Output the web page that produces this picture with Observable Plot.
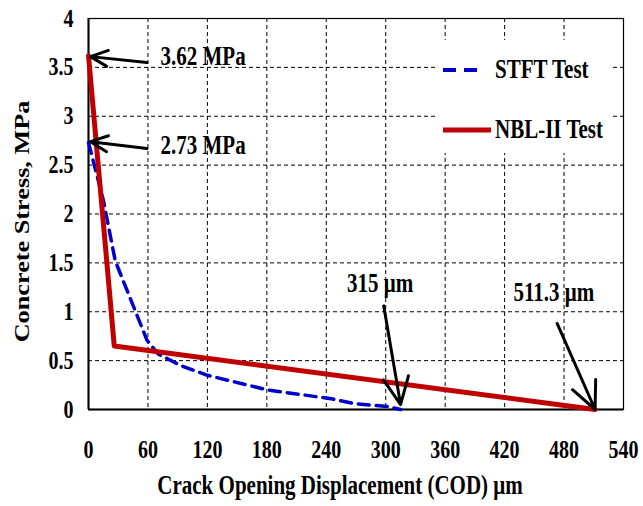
<!DOCTYPE html>
<html><head><meta charset="utf-8">
<script src="https://cdn.jsdelivr.net/npm/d3@7"></script>
<script src="https://cdn.jsdelivr.net/npm/@observablehq/plot@0.6"></script>
<style>
body{margin:0;background:#fff;}
#wrap{position:relative;width:643px;height:506px;}
.legend{position:absolute;left:437px;top:40px;width:173px;height:113px;background:#fff;font:bold 21px "Liberation Serif";color:#000;}
.legend .row{position:absolute;left:0;width:173px;height:30px;}
.legend svg{position:absolute;left:0;top:0;}
.legend span{position:absolute;left:58px;top:2px;white-space:nowrap;display:inline-block;transform:scaleY(1.25);transform-origin:left center;}
</style></head><body><div id="wrap"></div>
<script>
const xTicks = [0, 60, 120, 180, 240, 300, 360, 420, 480, 540];
const yTicks = [0, 0.5, 1, 1.5, 2, 2.5, 3, 3.5, 4];
const seriesNames = ["STFT Test", "NBL-II Test"];
const stftCod = [0, 15, 27, 59, 70, 93, 120, 181, 245, 268, 302, 315];
const stftStress = [2.73, 2.14, 1.52, 0.71, 0.57, 0.45, 0.35, 0.2, 0.11, 0.06, 0.03, 0];
const nblCod = [0, 26, 511.3];
const nblStress = [3.62, 0.65, 0];
const annLabels = ["3.62 MPa", "2.73 MPa", "315 μm", "511.3 μm"];
const annTipX = [2, 2, 315, 511.3];
const annTipY = [3.61, 2.74, 0.05, 0];
const annTailX = [59, 59, 298, 473];
const annTailY = [3.55, 2.67, 1.06, 0.88];
const annTextX = [72.7, 72.7, 261, 429];
const annTextY = [3.61, 2.70, 1.29, 1.20];
const xLabel = "Crack Opening Displacement (COD) μm";
const yLabel = "Concrete Stress, MPa";

const stft = stftCod.map((c, i) => ({cod: c, stress: stftStress[i]}));
const nbl = nblCod.map((c, i) => ({cod: c, stress: nblStress[i]}));
const ann = annLabels.map((l, i) => ({label: l, x: annTipX[i], y: annTipY[i], tx: annTailX[i], ty: annTailY[i], lx: annTextX[i], ly: annTextY[i]}));

const chart = Plot.plot({
  width: 643, height: 506,
  marginLeft: 88, marginRight: 20, marginTop: 18, marginBottom: 97,
  x: {domain: [0, 540]},
  y: {domain: [0, 4]},
  style: {fontFamily: "Liberation Serif", fontWeight: "bold", fontSize: "20px", color: "black", background: "white", overflow: "visible"},
  marks: [
    Plot.gridX(xTicks, {stroke: "black", strokeOpacity: 1, strokeDasharray: "4,3", strokeWidth: 1}),
    Plot.gridY(yTicks, {stroke: "black", strokeOpacity: 1, strokeDasharray: "4,3", strokeWidth: 1}),
    Plot.frame({stroke: "black", strokeWidth: 1.2}),
    Plot.axisX(xTicks, {tickSize: 0, tickPadding: 31, label: null, tickFormat: d => String(d), fontSize: 20}),
    Plot.axisY(yTicks, {tickSize: 0, tickPadding: 15, label: null, tickFormat: d => String(d), fontSize: 20}),
    Plot.ruleX([0], {stroke: "black", strokeWidth: 2}),
    Plot.ruleY([0], {stroke: "black", strokeWidth: 2}),
    Plot.line(stft, {x: "cod", y: "stress", stroke: "#0000cc", strokeWidth: 3.5, strokeDasharray: "11,7"}),
    Plot.line(nbl, {x: "cod", y: "stress", stroke: "#c00000", strokeWidth: 5}),
    Plot.arrow(ann, {x1: "tx", y1: "ty", x2: "x", y2: "y", stroke: "black", strokeWidth: 3, headLength: 15, headAngle: 50}),
    Plot.text(ann, {x: "lx", y: "ly", text: "label", textAnchor: "start", fontSize: 21, fill: "black"}),
    Plot.text([xLabel], {frameAnchor: "bottom", textAnchor: "middle", lineAnchor: "middle", dx: -16, dy: 76, fontSize: 21, fill: "black"}),
    Plot.text([yLabel], {frameAnchor: "left", textAnchor: "middle", lineAnchor: "middle", dx: -66, dy: 7.5, rotate: -90, fontSize: 21, fill: "black"})
  ]
});
const wrap = document.getElementById("wrap");
wrap.appendChild(chart);

// The reference glyphs are stretched vertically (~1.25x): emulate with larger font + compressed textLength.
const stretch = 1.25;
chart.querySelectorAll("text").forEach(t => {
  const fs = parseFloat(getComputedStyle(t).fontSize);
  if (t.textContent === yLabel) {
    const L = t.getComputedTextLength();
    t.setAttribute("textLength", L * stretch);
    t.setAttribute("lengthAdjust", "spacingAndGlyphs");
  } else {
    t.style.fontSize = (fs * stretch) + "px";
    const L = t.getComputedTextLength();
    t.setAttribute("textLength", L / stretch);
    t.setAttribute("lengthAdjust", "spacingAndGlyphs");
  }
});

const legend = document.createElement("div");
legend.className = "legend";
legend.innerHTML = `
  <div class="row" style="top:15px"><svg width="60" height="30"><line x1="6" x2="45" y1="15" y2="15" stroke="#0000cc" stroke-width="4" stroke-dasharray="13,8"/></svg><span>${seriesNames[0]}</span></div>
  <div class="row" style="top:75px"><svg width="60" height="30"><line x1="6" x2="54" y1="15" y2="15" stroke="#c00000" stroke-width="5"/></svg><span>${seriesNames[1]}</span></div>`;
wrap.appendChild(legend);
</script>
</body></html>
